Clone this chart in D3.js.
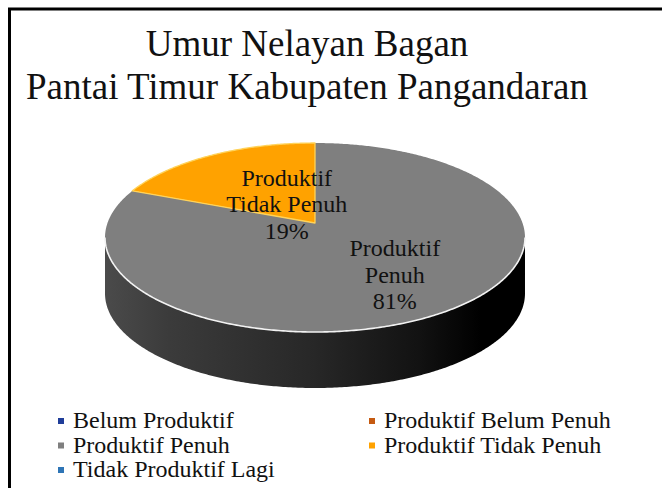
<!DOCTYPE html>
<html><head><meta charset="utf-8">
<script src="https://cdn.jsdelivr.net/npm/d3@7/dist/d3.min.js"></script></head>
<body style="margin:0">
<svg id="chart" width="662" height="488"></svg>
<script>
// ---- data ----
const titleLines = ["Umur Nelayan Bagan", "Pantai Timur Kabupaten Pangandaran"];
const categories = ["Belum Produktif", "Produktif Belum Penuh", "Produktif Penuh", "Produktif Tidak Penuh", "Tidak Produktif Lagi"];
const values = [0, 0, 81, 19, 0];
const colors = ["#1f3d99", "#c55a11", "#7f7f7f", "#ffa200", "#2e75b6"];

// ---- layout (not data) ----
const W = 662, H = 488;
const FONT = "Liberation Serif";
const P = { cx: 315, cy: 223, A: 207.5, B: 92.27, c: -0.1534, depth: 56 };
const labelRadius = { "Produktif Penuh": 0.63, "Produktif Tidak Penuh": 0.25 };

const svg = d3.select("#chart");
const defs = svg.append("defs");

function serif(sel) {
  return sel.attr("font-family", FONT).style("font-family", FONT, "important").attr("fill", "#111");
}

// frame
svg.append("path")
  .attr("d", `M9.5,${H} V9 H${W}`)
  .attr("fill", "none").attr("stroke", "#000").attr("stroke-width", 3);

// title
svg.append("g").selectAll("text").data(titleLines).join("text")
  .attr("x", 307).attr("y", (d, i) => 56 + i * 43)
  .attr("text-anchor", "middle")
  .attr("font-size", 37)
  .call(serif)
  .text(d => d);

// perspective projection of a point on the pie disc
function proj(theta, t = 1, dz = 0) {
  const u = t * Math.sin(theta), v = -t * Math.cos(theta);
  const den = 1 + P.c * v;
  return [P.cx + P.A * u / den, P.cy + P.B * v / den + dz];
}
const line = d3.line();
function arcPts(a0, a1, dz = 0) {
  const n = Math.max(2, Math.ceil(Math.abs(a1 - a0) / 0.01));
  return d3.range(n + 1).map(i => proj(a0 + (a1 - a0) * i / n, 1, dz));
}

const pie = d3.pie().sort(null).value(d => d.value);
const data = categories.map((name, i) => ({ name, value: values[i], color: colors[i] }));
const arcs = pie(data).filter(d => d.data.value > 0);

// side gradient
const grad = defs.append("linearGradient").attr("id", "sideGrad")
  .attr("gradientUnits", "userSpaceOnUse")
  .attr("x1", P.cx - P.A).attr("x2", P.cx + P.A).attr("y1", 0).attr("y2", 0);
[[0, "#4a4a4a"], [0.15, "#3b3b3b"], [0.5, "#272727"], [0.75, "#121212"], [0.9, "#000"], [1, "#000"]]
  .forEach(([o, c]) => grad.append("stop").attr("offset", o).attr("stop-color", c));

const thR = Math.acos(P.c), thL = 2 * Math.PI - thR;

// sides
const gSide = svg.append("g");
arcs.forEach(a => {
  const s = Math.max(a.startAngle, thR), e = Math.min(a.endAngle, thL);
  if (e <= s) return;
  const top = arcPts(s, e, 0), bot = arcPts(e, s, P.depth);
  gSide.append("path")
    .attr("d", line(top.concat(bot)) + "Z")
    .attr("fill", a.data.name === "Produktif Penuh" ? "url(#sideGrad)" : d3.color(a.data.color).darker(1.5));
});

// top faces
const gTop = svg.append("g");
arcs.forEach(a => {
  const pts = [proj(0, 0)].concat(arcPts(a.startAngle, a.endAngle, 0));
  const isOrange = a.data.name === "Produktif Tidak Penuh";
  gTop.append("path")
    .attr("d", line(pts) + "Z")
    .attr("fill", a.data.color)
    .attr("stroke", isOrange ? "#ffd35a" : "none")
    .attr("stroke-width", isOrange ? 1.3 : 0)
    .attr("stroke-linejoin", "round");
});

// front highlight edge
svg.append("path")
  .attr("d", line(arcPts(thR, thL, 0)))
  .attr("fill", "none").attr("stroke", "#f2f2f2").attr("stroke-width", 1.6);

// labels
const gLab = svg.append("g");
arcs.forEach(a => {
  const mid = (a.startAngle + a.endAngle) / 2;
  const [x, y] = proj(mid, labelRadius[a.data.name] || 0.6);
  const sp = a.data.name.indexOf(" ");
  const pct = Math.round(a.data.value / d3.sum(values) * 100) + "%";
  const lines = [a.data.name.slice(0, sp), a.data.name.slice(sp + 1), pct];
  gLab.append("g").selectAll("text").data(lines).join("text")
    .attr("x", x).attr("y", (d, i) => y - 19 + i * 26.5)
    .attr("text-anchor", "middle").attr("font-size", 24)
    .call(serif)
    .text(d => d);
});

// legend
const colX = [58, 369], rowY = [428, 452.5, 477];
const gLeg = svg.append("g");
categories.forEach((name, i) => {
  const x = colX[i % 2], y = rowY[Math.floor(i / 2)];
  gLeg.append("rect").attr("x", x).attr("y", y - 10).attr("width", 6).attr("height", 6).attr("fill", colors[i]);
  gLeg.append("text").attr("x", x + 15).attr("y", y).attr("font-size", 24)
    .call(serif).text(name);
});
</script>
</body>
</html>
